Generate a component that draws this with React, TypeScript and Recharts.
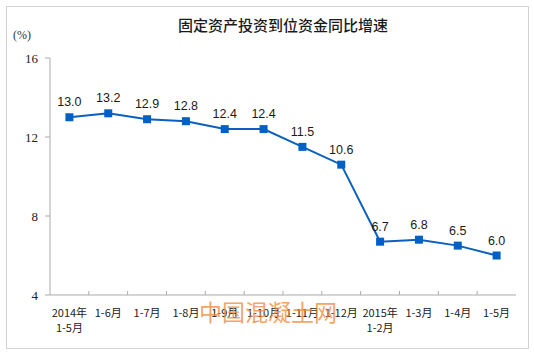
import React from "react";
import { LineChart, Line, XAxis, YAxis, LabelList } from "recharts";

const months = ["2014年|1-5月", "1-6月", "1-7月", "1-8月", "1-9月", "1-10月", "1-11月", "1-12月", "2015年|1-2月", "1-3月", "1-4月", "1-5月"];
const growth = [13.0, 13.2, 12.9, 12.8, 12.4, 12.4, 11.5, 10.6, 6.7, 6.8, 6.5, 6.0];
const yTicks = [4, 8, 12, 16];

const data = months.map((m, i) => ({ month: m, value: growth[i] }));

const BLUE = "#0a5fbf";
const AXIS = "#ababab";
const HALF_BAND = 19.4;

const MonthTick = (props: any) => {
  const { x, y, payload, index } = props;
  const lines = String(payload.value).split("|");
  return (
    <g>
      {index < months.length - 1 && (
        <line x1={x + HALF_BAND} x2={x + HALF_BAND} y1={y} y2={y - 4} stroke={AXIS} />
      )}
      {lines.map((l, i) => (
        <text
          key={i}
          x={x}
          y={y + 22 + i * 15}
          textAnchor="middle"
          fontSize={11}
          fill="#222"
          fontFamily="'Noto Sans CJK SC', sans-serif"
        >
          {l}
        </text>
      ))}
    </g>
  );
};

const SquareDot = (props: any) => {
  const { cx, cy } = props;
  if (cx == null || cy == null) return null;
  return <rect x={cx - 4} y={cy - 4} width={8} height={8} fill="#0060c6" />;
};

const App = () => (
  <div style={{ position: "absolute", left: 0, top: 0, width: 534, height: 354, background: "#fff" }}>
    <div
      style={{
        position: "absolute",
        left: 6,
        top: 6,
        width: 521,
        height: 341,
        border: "1px solid #d2d2d2",
      }}
    />
    <div
      style={{
        position: "absolute",
        left: 50,
        width: 466,
        top: 14,
        textAlign: "center",
        fontFamily: "'Noto Sans CJK SC', sans-serif",
        fontSize: 15,
        fontWeight: 500,
        color: "#1a1a1a",
      }}
    >
      固定资产投资到位资金同比增速
    </div>
    <div
      style={{
        position: "absolute",
        left: 13,
        top: 28,
        fontFamily: "'Liberation Serif', serif",
        fontSize: 12,
        color: "#333",
      }}
    >
      (%)
    </div>
    <div style={{ position: "absolute", left: 0, top: 0 }}>
      <LineChart width={534} height={354} data={data} margin={{ top: 58, right: 18, bottom: 19, left: 0 }}>
        <XAxis
          dataKey="month"
          interval={0}
          height={40}
          padding={{ left: HALF_BAND, right: HALF_BAND }}
          tickLine={false}
          tickSize={0}
          tickMargin={0}
          axisLine={{ stroke: AXIS }}
          tick={<MonthTick />}
        />
        <XAxis xAxisId="top" dataKey="month" orientation="top" height={0} tick={false} tickLine={false} axisLine={{ stroke: AXIS }} />
        <YAxis
          domain={[4, 16]}
          ticks={yTicks}
          width={50}
          tickSize={5}
          tickMargin={7}
          tickLine={{ stroke: AXIS }}
          axisLine={{ stroke: AXIS }}
          tick={{ fontSize: 13, fill: "#222", fontFamily: "'Liberation Serif', serif" }}
        />
        <YAxis yAxisId="right" orientation="right" width={0} domain={[4, 16]} tick={false} tickLine={false} axisLine={{ stroke: AXIS }} />
        <Line
          dataKey="value"
          stroke={BLUE}
          strokeWidth={2}
          dot={<SquareDot />}
          activeDot={false}
          isAnimationActive={false}
        >
          <LabelList
            dataKey="value"
            position="top"
            offset={11}
            formatter={(v: any) => Number(v).toFixed(1)}
            style={{ fontSize: 12.5, fill: "#1a1a1a", fontFamily: "'Liberation Sans', Arial, sans-serif" }}
          />
        </Line>
      </LineChart>
    </div>
    <div
      style={{
        position: "absolute",
        left: 199,
        top: 296,
        fontFamily: "'Noto Sans CJK SC', sans-serif",
        fontSize: 23,
        color: "rgba(243, 140, 60, 0.8)",
        letterSpacing: 0,
        pointerEvents: "none",
        whiteSpace: "nowrap",
        lineHeight: "30px",
      }}
    >
      中国混凝土网
    </div>
  </div>
);

export default App;
